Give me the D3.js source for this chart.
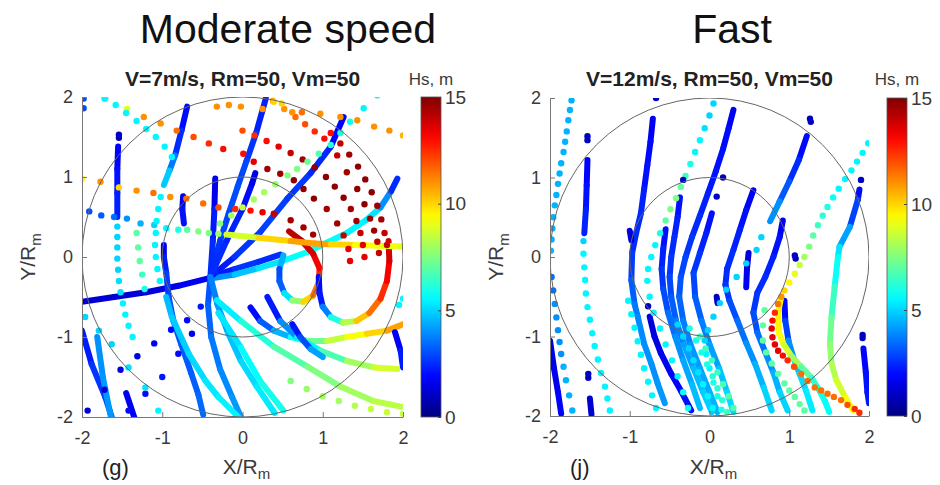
<!DOCTYPE html>
<html>
<head>
<meta charset="utf-8">
<script src="https://cdn.jsdelivr.net/npm/d3@7"></script>
<style>
  body { margin: 0; background: #fff; }
  text { font-family: "Liberation Sans", Arial, sans-serif; }
</style>
</head>
<body>
<div id="chart-area"></div>
<script>
// each track is a list of [X/Rm, Y/Rm, Hs]
const axisTicks = [-2, -1, 0, 1, 2];
const hsTicks = [0, 5, 10, 15];
const ringRadii = [1, 2];

// (g) V=7 m/s, dense tracks
const gLines = [
  [[-2.0,-0.56,1.2],[-1.6,-0.50,1.2],[-1.2,-0.44,1.3],[-0.8,-0.36,1.5],[-0.40,-0.26,1.8]],
  [[0.29,1.98,2.2],[0.17,1.55,2.5],[0.05,1.2,2.8],[-0.06,0.88,3],[-0.17,0.55,3],[-0.28,0.2,2.8],[-0.40,-0.25,2.5]],
  [[-0.69,1.88,1.8],[-0.76,1.58,2.2],[-0.84,1.27,2.8],[-0.91,1.08,4.5],[-0.98,0.9,5.2]],
  [[-0.40,-0.25,2],[-0.1,-0.15,2.5],[0.2,-0.06,2.8],[0.47,0.03,2.2]],
  [[-0.40,-0.27,3.5],[-0.1,-0.22,4.5],[0.2,-0.14,5],[0.5,-0.05,5.5],[0.8,0.06,5.8],[1.05,0.18,5.8],[1.3,0.3,5.5],[1.55,0.47,5.5],[1.72,0.62,5],[1.85,0.82,3],[1.93,0.98,2]],
  [[-0.40,-0.25,2],[-0.10,0.0,2.5],[0.22,0.31,2.8],[0.56,0.73,2.8],[0.85,1.05,2.6],[1.10,1.38,2.3],[1.26,1.75,1.5]],
  [[-0.40,-0.25,2.5],[-0.2,0.2,2.5],[0.0,0.6,2.2],[0.12,0.92,1.8],[0.16,1.05,1.2]],
  [[-0.34,0.98,1.2],[-0.35,0.6,2],[-0.37,0.2,2.5],[-0.40,-0.25,2.5]],
  [[-0.74,0.76,1.2],[-0.75,0.6,2],[-0.73,0.42,2.2]],
  [[-0.98,0.15,1.5],[-0.98,0.0,2],[-0.95,-0.2,2.5],[-0.92,-0.5,3],[-0.86,-0.8,3],[-0.76,-1.1,3.2],[-0.64,-1.45,3.2],[-0.55,-1.72,3.3],[-0.49,-1.97,3.5]],
  [[-0.40,-0.25,3],[-0.43,-0.6,3.2],[-0.39,-1.0,3.5],[-0.28,-1.4,3.8],[-0.13,-1.75,4],[-0.02,-2.0,4.2]],
  [[-0.40,-0.25,3.5],[-0.31,-0.6,4],[-0.18,-0.95,4.5],[-0.02,-1.3,5],[0.18,-1.62,5.2],[0.40,-1.95,5.5]],
  [[-0.95,-0.5,4.5],[-0.88,-0.75,4.8],[-0.67,-1.21,5],[-0.46,-1.55,5.2],[-0.30,-1.75,5.4],[-0.05,-2.0,5.5]],
  [[-0.32,-0.54,5],[-0.02,-0.8,5.8],[0.39,-1.12,6.5],[0.81,-1.37,7.2],[1.22,-1.62,7.8],[1.63,-1.8,8.2],[1.97,-1.87,8.5]],
  [[-0.3,-0.7,5],[-0.02,-1.13,5.5],[0.22,-1.55,5.8],[0.51,-1.92,6]],
  [[0.51,0.02,5.5],[0.46,-0.15,3.5],[0.46,-0.3,2.5],[0.52,-0.45,4],[0.62,-0.54,6.5],[0.76,-0.56,9],[0.88,-0.48,11],[0.95,-0.32,12],[0.96,-0.14,13],[0.88,0.04,13.5],[0.74,0.2,14],[0.58,0.32,14.2]],
  [[0.95,-0.25,2],[0.96,-0.45,2],[1.0,-0.62,2.5],[1.1,-0.75,5],[1.25,-0.82,7],[1.42,-0.8,9.5],[1.58,-0.7,11],[1.72,-0.52,12],[1.80,-0.3,13],[1.83,-0.05,13.5],[1.82,0.2,14]],
  [[0.1,-0.63,1.5],[0.22,-0.8,2.5],[0.39,-0.92,4],[0.6,-1.0,5],[0.81,-1.05,6.5],[1.05,-1.05,8],[1.30,-1.0,9],[1.55,-0.96,9.5],[1.80,-0.92,10.5],[2.0,-0.84,11]],
  [[0.31,-0.5,1.5],[0.47,-0.8,3],[0.68,-1.0,5],[0.97,-1.17,6],[1.30,-1.3,7.5],[1.64,-1.38,8.5],[1.93,-1.4,9]],
  [[0.62,-0.84,1.8],[0.72,-1.0,2.5],[0.85,-1.15,3.5],[1.0,-1.25,5]],
  [[1.90,-0.94,1.5],[1.97,-1.17,2],[2.0,-1.38,2.5]],
  [[-1.55,1.38,1.8],[-1.56,1.1,2],[-1.56,0.8,2.2],[-1.56,0.5,2.5]],
  [[-2.0,-0.92,2],[-1.88,-1.34,2.5],[-1.71,-1.75,2.8],[-1.63,-2.0,3]],
  [[-1.81,-1.0,4],[-1.74,-1.5,4],[-1.64,-2.0,4.2]],
  [[-1.45,-1.7,1.5],[-1.35,-2.0,1.8]],
  [[-0.2,0.28,8],[0.2,0.24,9.5],[0.6,0.2,10.5],[0.9,0.17,11],[1.1,0.16,10.5],[1.4,0.15,9.5],[1.7,0.14,9.2],[2.0,0.13,9]]
];

// (g) V=7 m/s, sparse dotted tracks
const gDots = [
  [[-2.0,0.98,9.5],[-1.77,0.94,11],[-1.54,0.87,10],[-1.32,0.83,11],[-1.11,0.80,11.5],[-0.90,0.75,11],[-0.70,0.73,11.5],[-0.49,0.67,11.5],[-0.30,0.62,12],[-0.09,0.60,12.5],[0.10,0.58,13],[0.25,0.56,13.5],[0.39,0.54,14],[0.60,0.46,14.5],[0.76,0.37,14.5],[0.88,0.28,14.5]],
  [[-1.71,1.98,6],[-1.44,1.85,9],[-1.23,1.75,11],[-1.02,1.67,11],[-0.82,1.58,11.5],[-0.61,1.50,12],[-0.42,1.42,12.5],[-0.24,1.35,13],[0.01,1.29,13],[0.14,1.19,13.5],[0.31,1.10,14.5],[0.47,1.04,14.5],[0.64,0.96,14.8],[0.76,0.85,14.8],[0.89,0.73,14.8],[1.05,0.60,14.5],[1.18,0.42,14.5],[1.26,0.27,14],[1.32,0.1,13.5],[1.34,-0.05,13.5]],
  [[0.0,1.58,12],[0.15,1.52,12.5],[0.30,1.45,13],[0.45,1.38,13.5],[0.60,1.30,14],[0.75,1.22,14.5],[0.90,1.12,14.8],[1.04,1.0,14.8],[1.15,0.88,14.8],[1.26,0.74,14.8],[1.35,0.6,14.5],[1.42,0.45,14.5],[1.47,0.3,14],[1.50,0.15,13.5],[1.52,0.0,13.5]],
  [[0.38,1.95,11],[0.52,1.85,11],[0.66,1.75,11.5],[0.78,1.66,12],[0.90,1.57,12.5],[1.02,1.48,13],[1.18,1.27,14],[1.30,1.06,14.5],[1.43,0.85,14.8],[1.52,0.66,14.8],[1.59,0.48,14.5],[1.64,0.33,14.5],[1.68,0.19,14],[1.70,0.05,14]],
  [[1.10,1.55,13],[1.22,1.42,14],[1.33,1.28,14.5],[1.44,1.13,14.8],[1.53,0.97,14.8],[1.61,0.81,14.8],[1.68,0.64,14.5],[1.73,0.47,14.5],[1.77,0.3,14],[1.80,0.15,14]],
  [[-0.32,1.88,11],[-0.17,1.9,11],[-0.02,1.88,11],[0.25,1.85,11],[0.39,1.94,10],[0.49,1.92,10],[0.62,1.81,11],[0.74,1.81,11.5],[0.97,1.79,11],[1.22,1.75,11],[1.43,1.71,11],[1.64,1.63,11],[1.83,1.58,11],[2.0,1.52,10.5]],
  [[1.68,2.02,5.5],[1.51,1.86,5.5],[1.34,1.69,5.8],[1.22,1.55,6],[1.10,1.40,6.2],[0.95,1.29,6.8],[0.81,1.19,7.2],[0.68,1.10,7.5],[0.56,1.02,7.5],[0.41,0.91,7.8],[0.27,0.81,8],[0.14,0.72,8],[0.0,0.62,8.5],[-0.14,0.52,8],[-0.28,0.42,7.5]],
  [[-1.91,0.57,3],[-1.76,0.52,3.2],[-1.6,0.50,3.5],[-1.44,0.48,4],[-1.27,0.42,4.5],[-1.1,0.40,5],[-0.95,0.36,5.5],[-0.8,0.34,6]],
  [[-0.69,0.34,7],[-0.55,0.32,7.5],[-0.42,0.3,7.5],[-0.3,0.29,8]],
  [[-1.02,0.75,5.5],[-1.05,0.6,5.5],[-1.07,0.45,5.5],[-1.08,0.3,5.5],[-1.09,0.15,5.5],[-1.08,0.0,5.5],[-1.06,-0.15,5.5],[-1.03,-0.3,5.5]],
  [[-1.56,0.38,5],[-1.56,0.25,5],[-1.56,0.12,5],[-1.56,-0.02,5],[-1.55,-0.16,5],[-1.54,-0.3,5.2],[-1.52,-0.44,5.2],[-1.49,-0.58,5.5],[-1.46,-0.72,5.5],[-1.42,-0.86,5.5],[-1.37,-1.0,5.5]],
  [[-1.54,1.53,1],[-1.54,1.49,1],[-1.98,1.98,3],[-1.98,1.86,3]],
  [[-1.72,1.98,5.5],[-1.58,1.9,5.5],[-1.45,1.8,5.5],[-1.32,1.7,5.5],[-1.2,1.6,5.5],[-1.08,1.5,5.5],[-0.97,1.38,5.5],[-0.88,1.25,5.5]],
  [[-1.93,-1.92,1.2],[-1.72,-1.66,1.3],[-1.52,-1.41,1.5],[-1.31,-1.24,1.5],[-1.10,-1.08,1.8],[-0.89,-0.91,2],[-0.69,-0.79,2],[-0.52,-0.62,2.2]],
  [[-1.42,-1.92,2],[-1.21,-1.71,2],[-1.0,-1.5,2.2],[-0.8,-1.21,2],[-0.63,-0.96,1.8]],
  [[-1.96,-0.75,5],[-1.79,-0.92,5],[-1.63,-1.09,5],[-1.42,-1.38,5.2],[-1.21,-1.63,5.2],[-1.05,-1.92,5.5]],
  [[-1.32,0.3,7],[-1.30,0.12,7],[-1.28,-0.05,7],[-1.25,-0.22,6.5],[-1.22,-0.4,6]],
  [[0.6,-1.55,7.5],[0.8,-1.65,7.8],[1.0,-1.74,8],[1.2,-1.8,8],[1.4,-1.86,8.2],[1.6,-1.9,8.5],[1.8,-1.94,8.5],[2.0,-1.96,8.5]],
  [[1.95,-0.6,5.5],[2.0,-0.52,5.5]]
];

// (j) V=12 m/s, dense tracks
const jLines = [
  [[-2.0,-1.05,1.5],[-1.95,-1.4,1.5],[-1.9,-1.7,1.8],[-1.86,-1.97,2]],
  [[-1.53,1.22,1.8],[-1.54,0.9,2],[-1.55,0.6,2.2],[-1.57,0.3,2.5]],
  [[-1.50,-1.78,1.2],[-1.48,-1.98,1.2]],
  [[-0.71,1.74,1.5],[-0.74,1.45,2],[-0.78,1.15,2],[-0.82,0.85,2.2],[-0.86,0.55,2.5],[-0.92,0.3,2.5],[-0.97,0.05,2.5],[-0.98,-0.29,3],[-0.94,-0.59,3.5],[-0.9,-0.75,3.8],[-0.82,-1.09,4],[-0.73,-1.34,4],[-0.65,-1.59,4],[-0.56,-1.84,4.2]],
  [[-0.75,-0.75,1.2],[-0.69,-1.0,1.5],[-0.61,-1.21,1.5],[-0.48,-1.47,1.8],[-0.36,-1.68,2],[-0.23,-1.93,2.2]],
  [[0.30,1.85,1.5],[0.24,1.62,2],[0.17,1.36,2],[0.08,1.08,2.2],[-0.02,0.8,2.2],[-0.12,0.52,2.5],[-0.22,0.25,2.5],[-0.30,0.0,2.8],[-0.36,-0.25,3],[-0.38,-0.5,3.2],[-0.33,-0.8,3.5],[-0.24,-1.1,4],[-0.12,-1.4,4.2],[0.0,-1.7,4.5],[0.1,-1.95,4.5]],
  [[-0.37,0.75,2],[-0.40,0.5,2.2],[-0.44,0.25,2.5],[-0.48,0.0,2.5],[-0.5,-0.25,2.8],[-0.48,-0.5,3],[-0.42,-0.8,3.5],[-0.32,-1.1,4],[-0.2,-1.4,4.5],[-0.08,-1.7,4.8],[0.03,-1.95,5]],
  [[0.03,0.55,2],[-0.04,0.3,2.2],[-0.12,0.05,2.5],[-0.2,-0.2,2.8],[-0.18,-0.5,3],[-0.1,-0.8,3.5],[0.0,-1.1,4],[0.12,-1.4,4.5],[0.22,-1.7,5],[0.3,-1.95,5.2]],
  [[0.55,0.84,1.5],[0.46,0.59,2],[0.38,0.34,2.2],[0.30,0.09,2.5],[0.22,-0.15,2.5],[0.2,-0.35,2.5],[0.25,-0.55,2.8],[0.35,-0.8,3.2],[0.46,-1.08,3.8],[0.57,-1.34,4.2],[0.68,-1.64,4.8],[0.78,-1.93,5.2]],
  [[0.92,0.46,1.5],[0.88,0.25,2],[0.8,0.0,2.2],[0.7,-0.25,2.5],[0.6,-0.45,2.5],[0.55,-0.7,2.8],[0.6,-0.95,3.2],[0.7,-1.2,3.8],[0.8,-1.45,4.2],[0.88,-1.7,4.8],[0.98,-1.93,5.2]],
  [[0.94,-0.55,1.8],[0.95,-0.8,2.2],[0.99,-1.05,3.5],[1.05,-1.26,4.5],[1.13,-1.47,5],[1.21,-1.68,5.2],[1.29,-1.93,5.5]],
  [[1.22,1.52,1.8],[1.12,1.22,2.2],[1.0,0.95,2.8],[0.88,0.7,3.5],[0.76,0.45,4.5]],
  [[1.88,0.85,1.8],[1.86,0.72,2.2],[1.76,0.38,3.5],[1.63,0.13,5],[1.61,0.0,5.5],[1.57,-0.37,6],[1.53,-0.76,7],[1.51,-1.09,7.5],[1.53,-1.34,8],[1.59,-1.55,8.5],[1.70,-1.76,9],[1.80,-1.93,9.5]],
  [[1.93,-1.15,1.8],[1.96,-1.45,2],[1.98,-1.7,2.2],[2.0,-1.84,2.2]],
  [[0.9,-0.5,9.5],[0.86,-0.7,9.5],[0.87,-0.95,9.5],[0.93,-1.1,9],[1.03,-1.25,8.5],[1.15,-1.38,7.5],[1.28,-1.52,6.5],[1.38,-1.68,6],[1.45,-1.82,5.8],[1.5,-1.95,5.5]],
  [[-1.0,0.33,1.2],[-0.98,0.21,1.5]],
  [[-0.55,0.35,2],[-0.58,0.1,2.2],[-0.6,-0.15,2.5],[-0.58,-0.4,2.8],[-0.52,-0.7,3.2],[-0.43,-1.0,3.8],[-0.33,-1.3,4.2],[-0.22,-1.6,4.5],[-0.12,-1.9,4.8]],
  [[0.09,-0.5,1],[0.1,-0.58,1.2]],
  [[0.49,0.05,1.2],[0.47,-0.15,1.5],[0.46,-0.38,1.8]]
];

// (j) V=12 m/s, sparse dotted tracks
const jDots = [
  [[-1.73,1.97,4.5],[-1.75,1.85,4.5],[-1.77,1.72,4.5],[-1.79,1.58,4.5],[-1.81,1.45,4.5],[-1.83,1.32,4.5],[-1.86,1.18,4.5],[-1.88,1.05,4.5],[-1.90,0.92,4.5],[-1.92,0.78,4.5],[-1.94,0.65,4.5],[-1.96,0.50,4.5],[-1.97,0.36,4.5],[-1.98,0.22,4.5],[-1.99,0.08,4.5]],
  [[-1.98,-0.25,3.5],[-1.96,-0.42,3.5],[-1.94,-0.59,4],[-1.92,-0.76,4],[-1.90,-0.92,4],[-1.88,-1.07,4],[-1.86,-1.22,4],[-1.83,-1.38,4.5],[-1.80,-1.55,4.5],[-1.76,-1.74,4.5],[-1.72,-1.93,4.5]],
  [[-1.58,0.2,5],[-1.58,0.04,5.5],[-1.57,-0.13,5.5],[-1.56,-0.29,5.5],[-1.55,-0.46,5.5],[-1.53,-0.63,5.5],[-1.50,-0.79,5.5],[-1.47,-0.96,5.5],[-1.44,-1.12,5.5],[-1.40,-1.29,5.5],[-1.36,-1.46,5.5],[-1.31,-1.63,5.5],[-1.28,-1.78,5.5],[-1.25,-1.93,5.5]],
  [[0.05,1.93,5],[0.0,1.78,5],[-0.06,1.62,5.2],[-0.12,1.47,5.5],[-0.18,1.32,5.5],[-0.24,1.17,6],[-0.30,1.02,6.5],[-0.36,0.88,7],[-0.42,0.74,7.5],[-0.49,0.6,7.5],[-0.55,0.46,7],[-0.62,0.3,6],[-0.68,0.15,5.5],[-0.73,0.0,5.5],[-0.77,-0.15,5.5],[-0.78,-0.3,5.5],[-0.75,-0.5,5.5],[-0.70,-0.7,5.5],[-0.62,-0.9,5.5],[-0.55,-1.1,5.5],[-0.47,-1.3,5.5],[-0.40,-1.5,5.5],[-0.33,-1.7,5.8],[-0.27,-1.9,5.8]],
  [[1.99,1.43,5.5],[1.92,1.31,5.5],[1.85,1.20,5.5],[1.78,1.09,5.5],[1.70,0.98,5.5],[1.62,0.86,5.5],[1.55,0.75,5.8],[1.48,0.63,6],[1.42,0.52,6.2],[1.36,0.40,6.5],[1.30,0.27,7],[1.25,0.13,7.5],[1.19,0.0,8],[1.13,-0.1,8.5],[1.07,-0.21,9],[1.0,-0.32,9.5],[0.94,-0.42,10],[0.90,-0.5,11],[0.86,-0.59,11.5],[0.82,-0.7,12.5],[0.79,-0.80,13],[0.78,-0.9,13.5],[0.79,-1.01,13.5],[0.82,-1.1,13.5],[0.86,-1.18,13.5],[0.92,-1.24,13],[0.98,-1.30,12.5],[1.06,-1.38,12],[1.15,-1.47,11.5],[1.23,-1.56,11.5],[1.32,-1.64,11.5],[1.40,-1.68,11.5],[1.48,-1.72,11.5],[1.56,-1.76,11.5],[1.65,-1.80,11.5],[1.73,-1.86,12],[1.82,-1.91,12.5],[1.88,-1.96,12.5]],
  [[0.65,0.25,5],[0.59,0.09,5],[0.46,-0.08,5],[0.34,-0.25,5],[0.21,-0.41,5],[0.13,-0.58,5],[0.05,-0.75,5],[-0.02,-0.92,5],[-0.06,-1.05,5],[-0.04,-1.22,5.5],[0.0,-1.4,5.5],[0.05,-1.58,6],[0.1,-1.75,6],[0.15,-1.92,6]],
  [[-1.02,-0.55,5.5],[-0.98,-0.72,5.5],[-0.94,-0.89,5.5],[-0.9,-1.06,5.5],[-0.86,-1.23,5.5],[-0.82,-1.4,5.5],[-0.77,-1.57,5.5],[-0.72,-1.74,5.5],[-0.67,-1.9,5.5]],
  [[-0.25,-0.9,6],[-0.17,-1.05,6],[-0.1,-1.2,6],[-0.03,-1.35,6],[0.04,-1.5,6.2],[0.1,-1.65,6.2],[0.16,-1.8,6.2],[0.22,-1.95,6.5]],
  [[-0.12,-1.0,6.5],[-0.05,-1.15,6.5],[0.03,-1.3,6.5],[0.1,-1.45,6.5],[0.17,-1.6,6.8],[0.24,-1.75,6.8],[0.3,-1.9,6.8]],
  [[-0.4,-0.85,5],[-0.33,-1.0,5],[-0.26,-1.15,5],[-0.2,-1.3,5.2],[-0.14,-1.45,5.2],[-0.08,-1.6,5.5],[-0.02,-1.75,5.5],[0.04,-1.9,5.5]],
  [[0.69,-0.67,7],[0.67,-0.86,7],[0.67,-1.05,7],[0.71,-1.2,7],[0.78,-1.34,7],[0.86,-1.47,7],[0.94,-1.59,7],[1.0,-1.68,7],[1.07,-1.76,7],[1.13,-1.85,7],[1.19,-1.93,7]],
  [[-0.67,2.0,1],[-1.53,1.52,1],[-1.53,1.47,1],[1.26,1.74,1],[1.27,1.70,1],[-0.33,0.97,1],[0.17,1.0,1],[0.09,0.76,1],[1.90,0.97,1],[1.92,-0.98,1],[1.92,-1.02,1],[1.07,0.02,1],[1.08,-0.02,1],[-0.77,-0.62,1],[-1.52,-1.47,1],[-1.52,-1.52,1]]
];

const hsColor = d3.scaleLinear()
    .domain([0, 1.875, 5.625, 9.375, 13.125, 15])
    .range(['#000080', '#0000ff', '#00ffff', '#ffff00', '#ff0000', '#800000'])
    .clamp(true);

const svg = d3.select('#chart-area')
    .append('svg')
        .attr('width', 940)
        .attr('height', 485);

function drawPanel(p) {
    const x = d3.scaleLinear().domain([-2, 2]).range([p.x0, p.x1]);
    const y = d3.scaleLinear().domain([-2, 2]).range([p.y1, p.y0]);

    svg.append('clipPath')
        .attr('id', 'clip-' + p.id)
        .append('rect')
            .attr('x', p.x0).attr('y', p.y0)
            .attr('width', p.x1 - p.x0).attr('height', p.y1 - p.y0);

    const g = svg.append('g').attr('clip-path', `url(#clip-${p.id})`);

    // dense tracks: short round segments coloured by Hs
    p.lines.forEach(track => {
        g.selectAll(null)
            .data(d3.pairs(track))
            .enter().append('line')
                .attr('x1', d => x(d[0][0])).attr('y1', d => y(d[0][1]))
                .attr('x2', d => x(d[1][0])).attr('y2', d => y(d[1][1]))
                .attr('stroke', d => hsColor((d[0][2] + d[1][2]) / 2))
                .attr('stroke-width', 6)
                .attr('stroke-linecap', 'round');
    });

    // sparse tracks: one dot per point
    p.dots.forEach(track => {
        g.selectAll(null)
            .data(track)
            .enter().append('circle')
                .attr('cx', d => x(d[0]))
                .attr('cy', d => y(d[1]))
                .attr('r', 3.2)
                .attr('fill', d => hsColor(d[2]));
    });

    // Rm and 2Rm rings
    g.selectAll('ellipse')
        .data(ringRadii)
        .enter().append('ellipse')
            .attr('cx', x(0)).attr('cy', y(0))
            .attr('rx', r => x(r) - x(0))
            .attr('ry', r => y(0) - y(r))
            .attr('fill', 'none')
            .attr('stroke', '#666')
            .attr('stroke-width', 1);

    const xAxis = svg.append('g')
        .attr('transform', `translate(0, ${p.y1})`)
        .call(d3.axisBottom(x).tickValues(axisTicks).tickFormat(d => String(d))
            .tickSizeInner(-5).tickSizeOuter(0).tickPadding(14));
    const yAxis = svg.append('g')
        .attr('transform', `translate(${p.x0}, 0)`)
        .call(d3.axisLeft(y).tickValues(axisTicks).tickFormat(d => String(d))
            .tickSizeInner(-5).tickSizeOuter(0).tickPadding(9));
    [xAxis, yAxis].forEach(a => {
        a.select('.domain').attr('stroke', '#777');
        a.selectAll('.tick line').attr('stroke', '#777');
        a.selectAll('text')
            .attr('font-size', '18px')
            .attr('fill', '#3a3a3a')
            .attr('font-family', '"Liberation Sans", Arial, sans-serif');
    });

    // colour bar
    const cb = d3.scaleLinear().domain([0, 15]).range([p.y1, p.y0]);
    const grad = svg.append('defs').append('linearGradient')
        .attr('id', 'grad-' + p.id)
        .attr('x1', 0).attr('y1', 1).attr('x2', 0).attr('y2', 0);
    grad.selectAll('stop')
        .data(d3.range(0, 15.01, 0.5))
        .enter().append('stop')
            .attr('offset', v => v / 15)
            .attr('stop-color', v => hsColor(v));
    svg.append('rect')
        .attr('x', p.cbX).attr('y', p.y0)
        .attr('width', 20).attr('height', p.y1 - p.y0)
        .attr('fill', `url(#grad-${p.id})`)
        .attr('stroke', '#555').attr('stroke-width', 0.8);
    const cbAxis = svg.append('g')
        .attr('transform', `translate(${p.cbX + 20}, 0)`)
        .call(d3.axisRight(cb).tickValues(hsTicks).tickSizeInner(-3).tickSizeOuter(0).tickPadding(4));
    cbAxis.select('.domain').remove();
    cbAxis.selectAll('.tick line').attr('stroke', '#444');
    cbAxis.selectAll('text')
        .attr('font-size', '19px')
        .attr('fill', '#3a3a3a')
        .attr('font-family', '"Liberation Sans", Arial, sans-serif');

    svg.append('text')
        .attr('x', p.cbX + 10).attr('y', 85)
        .attr('text-anchor', 'middle')
        .attr('font-size', '17px')
        .attr('fill', '#3a3a3a')
        .text('Hs, m');

    // titles
    svg.append('text')
        .attr('x', p.titleX).attr('y', 43)
        .attr('text-anchor', 'middle')
        .attr('font-size', '41px')
        .attr('fill', '#111')
        .text(p.title);
    svg.append('text')
        .attr('x', (p.x0 + p.x1) / 2).attr('y', 86)
        .attr('text-anchor', 'middle')
        .attr('font-size', '21px')
        .attr('font-weight', 'bold')
        .attr('fill', '#222')
        .text(p.sub);

    // axis labels
    const yl = svg.append('text')
        .attr('transform', `translate(${p.x0 - 47}, ${(p.y0 + p.y1) / 2}) rotate(-90)`)
        .attr('text-anchor', 'middle')
        .attr('font-size', '21px')
        .attr('fill', '#3a3a3a');
    yl.append('tspan').text('Y/R');
    yl.append('tspan').attr('font-size', '15px').attr('dy', 6).text('m');

    const xl = svg.append('text')
        .attr('x', (p.x0 + p.x1) / 2 + 4).attr('y', 474)
        .attr('text-anchor', 'middle')
        .attr('font-size', '21px')
        .attr('fill', '#3a3a3a');
    xl.append('tspan').text('X/R');
    xl.append('tspan').attr('font-size', '15px').attr('dy', 5).text('m');

    svg.append('text')
        .attr('x', p.x0 + 20).attr('y', 475)
        .attr('font-family', '"DejaVu Sans Mono", monospace')
        .attr('font-size', '22px')
        .attr('fill', '#222')
        .text(p.tag);
}

drawPanel({id: 'g', x0: 82, x1: 403, y0: 97, y1: 417, cbX: 421,
    lines: gLines, dots: gDots, title: 'Moderate speed', titleX: 288,
    sub: 'V=7m/s, Rm=50, Vm=50', tag: '(g)'});
drawPanel({id: 'j', x0: 550, x1: 869, y0: 98, y1: 416, cbX: 887,
    lines: jLines, dots: jDots, title: 'Fast', titleX: 732,
    sub: 'V=12m/s, Rm=50, Vm=50', tag: '(j)'});
</script>
</body>
</html>
